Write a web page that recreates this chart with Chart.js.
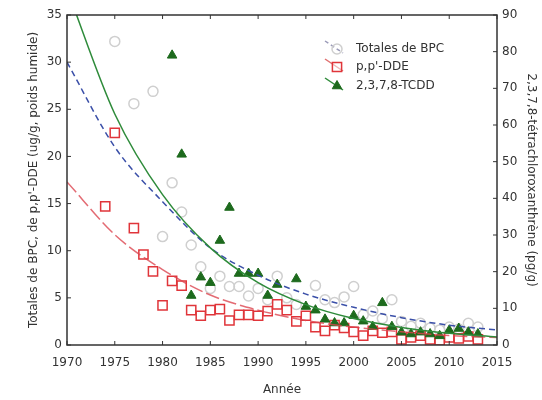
<!DOCTYPE html>
<html>
<head>
<meta charset="utf-8">
<script src="https://cdn.jsdelivr.net/npm/chart.js@4.4.0/dist/chart.umd.min.js"></script>
<style>
  html, body { margin: 0; padding: 0; background: #fff; }
</style>
</head>
<body>
<canvas id="chart" width="542" height="400"></canvas>
<script>
// observed values
var pcbYears = [1975, 1977, 1979, 1980, 1981, 1982, 1983, 1984, 1985, 1986, 1987, 1988, 1989, 1990, 1991, 1992, 1993, 1994, 1996, 1997, 1998, 1999, 2000, 2001, 2002, 2003, 2004, 2005, 2006, 2007, 2008, 2009, 2010, 2011, 2012, 2013];
var pcbValues = [32.2, 25.6, 26.9, 11.5, 17.2, 14.1, 10.6, 8.3, 6.0, 7.3, 6.2, 6.2, 5.2, 6.0, 4.8, 7.3, 5.0, 4.3, 6.3, 4.8, 4.5, 5.1, 6.2, 3.2, 3.6, 2.8, 4.8, 2.5, 2.0, 2.3, 1.8, 1.6, 1.9, 1.7, 2.3, 1.9];

var ddeYears = [1974, 1975, 1977, 1978, 1979, 1980, 1981, 1982, 1983, 1984, 1985, 1986, 1987, 1988, 1989, 1990, 1991, 1992, 1993, 1994, 1995, 1996, 1997, 1998, 1999, 2000, 2001, 2002, 2003, 2004, 2005, 2006, 2007, 2008, 2009, 2010, 2011, 2012, 2013];
var ddeValues = [14.7, 22.5, 12.4, 9.6, 7.8, 4.2, 6.8, 6.3, 3.7, 3.1, 3.7, 3.8, 2.6, 3.2, 3.2, 3.1, 3.6, 4.3, 3.7, 2.5, 3.1, 1.9, 1.5, 2.1, 1.8, 1.4, 1.0, 1.5, 1.3, 1.4, 0.6, 0.8, 1.0, 0.6, 0.5, 0.8, 0.7, 0.9, 0.6];

var tcddYears = [1981, 1982, 1983, 1984, 1985, 1986, 1987, 1988, 1989, 1990, 1991, 1992, 1994, 1995, 1996, 1997, 1998, 1999, 2000, 2001, 2002, 2003, 2004, 2005, 2006, 2007, 2008, 2009, 2010, 2011, 2012, 2013];
var tcddValues = [79, 52, 13.5, 18.5, 17, 28.5, 37.5, 19.5, 19.5, 19.5, 13.5, 16.5, 18, 10.5, 9.5, 7, 6, 6, 8, 6.5, 5, 11.5, 5, 3.5, 3, 3.5, 3, 2.5, 4, 4.5, 3.5, 3];

// fitted trend curves, every 5 years
var fitYears = [1970, 1975, 1980, 1985, 1990, 1995, 2000, 2005, 2010, 2015];
var pcbFit = [30, 21, 15.2, 10.3, 7.4, 5.4, 4.0, 2.9, 2.1, 1.6];
var ddeFit = [17.3, 11.7, 8.0, 5.3, 3.7, 2.6, 1.9, 1.4, 1.0, 0.8];
var tcddFit = [97, 63, 41, 26.5, 17, 11, 7.2, 4.8, 3.2, 2.2];

var yearTicks = [1970, 1975, 1980, 1985, 1990, 1995, 2000, 2005, 2010, 2015];
var legendLabels = ['Totales de BPC', "p,p'-DDE", '2,3,7,8-TCDD'];

function pairs(xs, ys) {
  var out = [];
  for (var i = 0; i < xs.length; i++) out.push({ x: xs[i], y: ys[i] });
  return out;
}

Chart.defaults.font.family = 'DejaVu Sans';
Chart.defaults.font.size = 12;
Chart.defaults.color = '#333';

// box round the plot with small inward ticks
var framePlugin = {
  id: 'frame',
  afterDraw: function(chart) {
    var c = chart.ctx, a = chart.chartArea;
    var sx = chart.scales.x, sy = chart.scales.y, sy2 = chart.scales.y2;
    c.save();
    c.strokeStyle = '#333';
    c.lineWidth = 1.5;
    c.strokeRect(a.left, a.top, a.right - a.left, a.bottom - a.top);
    c.lineWidth = 1;
    c.beginPath();
    sx.ticks.forEach(function(t) {
      var p = sx.getPixelForValue(t.value);
      c.moveTo(p, a.bottom); c.lineTo(p, a.bottom - 4);
      c.moveTo(p, a.top); c.lineTo(p, a.top + 4);
    });
    sy.ticks.forEach(function(t) {
      var p = sy.getPixelForValue(t.value);
      c.moveTo(a.left, p); c.lineTo(a.left + 4, p);
    });
    sy2.ticks.forEach(function(t) {
      var p = sy2.getPixelForValue(t.value);
      c.moveTo(a.right, p); c.lineTo(a.right - 4, p);
    });
    c.stroke();
    c.restore();
  }
};

// legend inside the plot
var legendPlugin = {
  id: 'innerLegend',
  afterDraw: function(chart) {
    var c = chart.ctx;
    var rows = [
      { ds: 3, y: 49 },
      { ds: 1, y: 67 },
      { ds: 2, y: 86 }
    ];
    var mx = 337, tx = 356;
    c.save();
    c.font = '12px DejaVu Sans';
    c.textBaseline = 'middle';
    rows.forEach(function(r, i) {
      var d = chart.data.datasets[r.ds];
      c.beginPath();
      c.setLineDash(i === 0 ? [4, 3] : []);
      c.strokeStyle = i === 0 ? '#9a9ab8' : (i === 1 ? '#e07070' : '#2e8b3a');
      c.lineWidth = 1.5;
      c.moveTo(mx - 12, r.y - 8);
      c.lineTo(mx + 6, r.y + 4);
      c.stroke();
      c.setLineDash([]);
      c.strokeStyle = d.borderColor;
      c.fillStyle = d.backgroundColor;
      c.lineWidth = d.borderWidth;
      Chart.helpers.drawPoint(c, { pointStyle: d.pointStyle, radius: d.pointRadius, borderWidth: d.borderWidth, rotation: 0 }, mx, r.y);
      c.fillStyle = '#333';
      c.fillText(legendLabels[i], tx, r.y);
    });
    c.restore();
  }
};

var ctx = document.getElementById('chart').getContext('2d');
var chart = new Chart(ctx, {
  type: 'scatter',
  data: {
    datasets: [
      {
        label: 'Totales de BPC (courbe)',
        data: pairs(fitYears, pcbFit),
        yAxisID: 'y',
        showLine: true,
        pointRadius: 0,
        borderColor: '#3a4fa8',
        borderWidth: 1.5,
        borderDash: [6, 4],
        cubicInterpolationMode: 'monotone',
        order: 1
      },
      {
        label: "p,p'-DDE",
        data: pairs(ddeYears, ddeValues),
        yAxisID: 'y',
        pointStyle: 'rect',
        pointRadius: 6.5,
        borderColor: '#e0353a',
        backgroundColor: 'rgba(255,255,255,0.5)',
        borderWidth: 1.5,
        order: 4
      },
      {
        label: '2,3,7,8-TCDD',
        data: pairs(tcddYears, tcddValues),
        yAxisID: 'y2',
        pointStyle: 'triangle',
        pointRadius: 5.5,
        borderColor: '#1d6a1d',
        backgroundColor: '#1d6a1d',
        borderWidth: 1,
        order: 3
      },
      {
        label: 'Totales de BPC',
        data: pairs(pcbYears, pcbValues),
        yAxisID: 'y',
        pointStyle: 'circle',
        pointRadius: 5,
        borderColor: '#cfcfcf',
        backgroundColor: 'rgba(255,255,255,0)',
        borderWidth: 1.5,
        order: 6
      },
      {
        label: "p,p'-DDE (courbe)",
        data: pairs(fitYears, ddeFit),
        yAxisID: 'y',
        showLine: true,
        pointRadius: 0,
        borderColor: 'rgba(220,70,80,0.8)',
        borderWidth: 1.5,
        borderDash: [14, 4],
        cubicInterpolationMode: 'monotone',
        order: 2
      },
      {
        label: '2,3,7,8-TCDD (courbe)',
        data: pairs(fitYears, tcddFit),
        yAxisID: 'y2',
        showLine: true,
        pointRadius: 0,
        borderColor: '#2e8b3a',
        borderWidth: 1.5,
        cubicInterpolationMode: 'monotone',
        order: 0
      }
    ]
  },
  options: {
    responsive: false,
    animation: false,
    layout: { padding: { left: 23, top: 15, right: 0, bottom: 0 } },
    plugins: {
      legend: { display: false },
      tooltip: { enabled: false }
    },
    scales: {
      x: {
        type: 'linear',
        min: 1970,
        max: 2015,
        afterFit: function(s) { s.height = 55; },
        afterBuildTicks: function(s) {
          s.ticks = yearTicks.map(function(v) { return { value: v }; });
        },
        ticks: { padding: 11, callback: function(v) { return String(v); } },
        grid: { display: false, drawTicks: false },
        border: { display: false },
        title: { display: true, text: 'Année', font: { size: 12 }, padding: { top: 4, bottom: 3 } }
      },
      y: {
        position: 'left',
        min: 0,
        max: 35,
        afterFit: function(s) { s.width = 44; },
        ticks: { stepSize: 5, padding: 5 },
        grid: { display: false, drawTicks: false },
        border: { display: false },
        title: { display: true, text: "Totales de BPC, de p,p'-DDE (ug/g, poids humide)", font: { size: 12 }, padding: { top: 4, bottom: 4 } }
      },
      y2: {
        position: 'right',
        min: 0,
        max: 90,
        afterFit: function(s) { s.width = 45; },
        ticks: { stepSize: 10, padding: 5 },
        grid: { display: false, drawTicks: false },
        border: { display: false },
        title: { display: true, text: '2,3,7,8-tétrachloroxanthrène (pg/g)', font: { size: 12 }, padding: { top: 4, bottom: 4 } }
      }
    }
  },
  plugins: [framePlugin, legendPlugin]
});
</script>
</body>
</html>
